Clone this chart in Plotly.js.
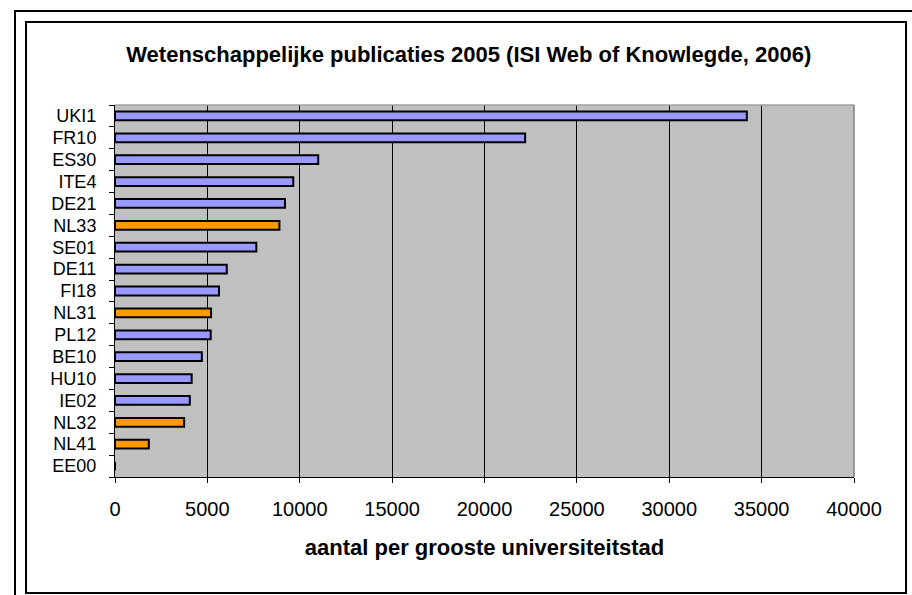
<!DOCTYPE html>
<html>
<head>
<meta charset="utf-8">
<script src="https://cdn.plot.ly/plotly-3.0.1.min.js"></script>
<style>
  html, body { margin: 0; padding: 0; background: #ffffff; }
  #wrap { position: relative; width: 912px; height: 595px; overflow: hidden; }
  #chart { position: absolute; left: 0; top: 0; width: 912px; height: 595px; }
  .frame { position: absolute; pointer-events: none; box-sizing: border-box; }
</style>
</head>
<body>
<div id="wrap">
  <div id="chart"></div>
  <div class="frame" style="left:14px; top:10px; width:920px; height:600px; border:2px solid #000;"></div>
  <div class="frame" style="left:25px; top:21px; width:882px; height:573px; border:2px solid #000;"></div>
</div>
<script>
const regions = ["UKI1", "FR10", "ES30", "ITE4", "DE21", "NL33", "SE01", "DE11", "FI18", "NL31", "PL12", "BE10", "HU10", "IE02", "NL32", "NL41", "EE00"];
const publications = [34200, 22200, 11000, 9650, 9200, 8900, 7650, 6050, 5630, 5200, 5180, 4700, 4150, 4050, 3740, 1830, 0];
const dutchRegions = ["NL33", "NL31", "NL32", "NL41"];
const xTickValues = [0, 5000, 10000, 15000, 20000, 25000, 30000, 35000, 40000];
const titleText = "Wetenschappelijke publicaties 2005 (ISI Web of Knowlegde, 2006)";
const xTitleText = "aantal per grooste universiteitstad";

const barColors = regions.map(r => dutchRegions.includes(r) ? "#ff9900" : "#9999ff");

const trace = {
  type: "bar",
  orientation: "h",
  y: regions,
  x: publications,
  marker: { color: barColors, line: { color: "#000000", width: 2 } },
  hoverinfo: "x+y"
};

const font = "Arial, 'Liberation Sans', sans-serif";

const layout = {
  width: 912,
  height: 595,
  margin: { l: 115, r: 58, t: 105, b: 118, pad: 0 },
  paper_bgcolor: "#ffffff",
  plot_bgcolor: "#c0c0c0",
  showlegend: false,
  bargap: 0.6,
  font: { family: font, color: "#000000", size: 18 },
  title: {
    text: "<b>" + titleText + "</b>",
    font: { family: font, size: 22, color: "#000000" },
    x: 0.514, xanchor: "center",
    y: 0.908, yanchor: "middle"
  },
  xaxis: {
    range: [0, 40000],
    tickmode: "array",
    tickvals: xTickValues,
    ticktext: xTickValues.map(String),
    showgrid: true,
    gridcolor: "#000000",
    gridwidth: 1,
    zeroline: false,
    showline: true,
    linecolor: "#000000",
    linewidth: 1,
    ticks: "outside",
    ticklen: 5,
    tickcolor: "#000000",
    ticklabelstandoff: 9,
    tickfont: { family: font, size: 20, color: "#000000" },
    title: {
      text: "<b>" + xTitleText + "</b>",
      font: { family: font, size: 22, color: "#000000" },
      standoff: 20
    },
    fixedrange: true
  },
  yaxis: {
    type: "category",
    categoryorder: "array",
    categoryarray: regions,
    autorange: "reversed",
    tickmode: "array",
    tickvals: regions,
    ticktext: regions,
    tickson: "boundaries",
    showgrid: false,
    showline: true,
    linecolor: "#000000",
    linewidth: 1,
    ticks: "outside",
    ticklen: 5,
    tickcolor: "#000000",
    ticklabelstandoff: 14,
    ticklabeloverflow: "allow",
    tickfont: { family: font, size: 18, color: "#000000" },
    fixedrange: true
  },
  shapes: [
    { type: "line", xref: "paper", yref: "paper", x0: 0, x1: 1, y0: 1, y1: 1, line: { color: "#a0a0a0", width: 1.5 } },
    { type: "line", xref: "paper", yref: "paper", x0: 1, x1: 1, y0: 0, y1: 1, line: { color: "#808080", width: 1.5 } }
  ]
};

Plotly.newPlot("chart", [trace], layout, { displayModeBar: false, staticPlot: true });
</script>
</body>
</html>
